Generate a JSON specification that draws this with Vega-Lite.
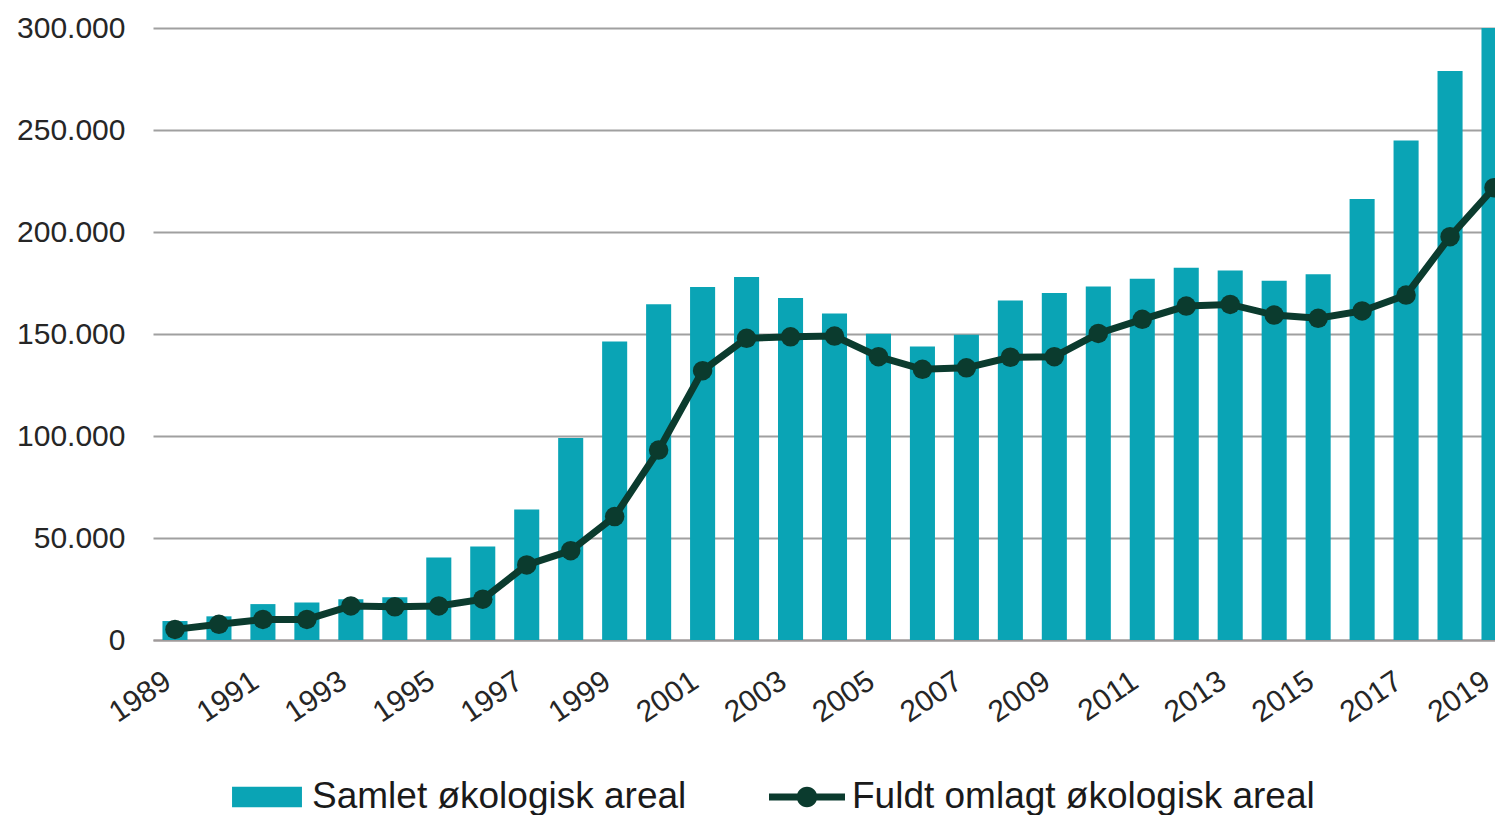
{
  "$schema": "https://vega.github.io/schema/vega-lite/v6.json",
  "width": 1363,
  "height": 612,
  "padding": {"left": 16, "top": 13, "right": 0, "bottom": 0},
  "background": "white",
  "config": {
    "view": {"stroke": null},
    "font": "Liberation Sans"
  },
  "data": {
    "values": [
      {"year": 1989, "series": "Samlet økologisk areal", "value": 9300},
      {"year": 1990, "series": "Samlet økologisk areal", "value": 11600},
      {"year": 1991, "series": "Samlet økologisk areal", "value": 17600},
      {"year": 1992, "series": "Samlet økologisk areal", "value": 18400},
      {"year": 1993, "series": "Samlet økologisk areal", "value": 20000},
      {"year": 1994, "series": "Samlet økologisk areal", "value": 21000},
      {"year": 1995, "series": "Samlet økologisk areal", "value": 40500},
      {"year": 1996, "series": "Samlet økologisk areal", "value": 45800},
      {"year": 1997, "series": "Samlet økologisk areal", "value": 64000},
      {"year": 1998, "series": "Samlet økologisk areal", "value": 99000},
      {"year": 1999, "series": "Samlet økologisk areal", "value": 146300},
      {"year": 2000, "series": "Samlet økologisk areal", "value": 164600},
      {"year": 2001, "series": "Samlet økologisk areal", "value": 173000},
      {"year": 2002, "series": "Samlet økologisk areal", "value": 177900},
      {"year": 2003, "series": "Samlet økologisk areal", "value": 167600},
      {"year": 2004, "series": "Samlet økologisk areal", "value": 160000},
      {"year": 2005, "series": "Samlet økologisk areal", "value": 150100},
      {"year": 2006, "series": "Samlet økologisk areal", "value": 143900},
      {"year": 2007, "series": "Samlet økologisk areal", "value": 149600},
      {"year": 2008, "series": "Samlet økologisk areal", "value": 166400},
      {"year": 2009, "series": "Samlet økologisk areal", "value": 170100},
      {"year": 2010, "series": "Samlet økologisk areal", "value": 173300},
      {"year": 2011, "series": "Samlet økologisk areal", "value": 177100},
      {"year": 2012, "series": "Samlet økologisk areal", "value": 182500},
      {"year": 2013, "series": "Samlet økologisk areal", "value": 181100},
      {"year": 2014, "series": "Samlet økologisk areal", "value": 176100},
      {"year": 2015, "series": "Samlet økologisk areal", "value": 179300},
      {"year": 2016, "series": "Samlet økologisk areal", "value": 216200},
      {"year": 2017, "series": "Samlet økologisk areal", "value": 244800},
      {"year": 2018, "series": "Samlet økologisk areal", "value": 278900},
      {"year": 2019, "series": "Samlet økologisk areal", "value": 300000},
      {"year": 1989, "series": "Fuldt omlagt økologisk areal", "value": 5200},
      {"year": 1990, "series": "Fuldt omlagt økologisk areal", "value": 7700},
      {"year": 1991, "series": "Fuldt omlagt økologisk areal", "value": 10100},
      {"year": 1992, "series": "Fuldt omlagt økologisk areal", "value": 10100},
      {"year": 1993, "series": "Fuldt omlagt økologisk areal", "value": 16700},
      {"year": 1994, "series": "Fuldt omlagt økologisk areal", "value": 16300},
      {"year": 1995, "series": "Fuldt omlagt økologisk areal", "value": 16700},
      {"year": 1996, "series": "Fuldt omlagt økologisk areal", "value": 20000},
      {"year": 1997, "series": "Fuldt omlagt økologisk areal", "value": 36800},
      {"year": 1998, "series": "Fuldt omlagt økologisk areal", "value": 43800},
      {"year": 1999, "series": "Fuldt omlagt økologisk areal", "value": 60500},
      {"year": 2000, "series": "Fuldt omlagt økologisk areal", "value": 93100},
      {"year": 2001, "series": "Fuldt omlagt økologisk areal", "value": 132000},
      {"year": 2002, "series": "Fuldt omlagt økologisk areal", "value": 147900},
      {"year": 2003, "series": "Fuldt omlagt økologisk areal", "value": 148600},
      {"year": 2004, "series": "Fuldt omlagt økologisk areal", "value": 149000},
      {"year": 2005, "series": "Fuldt omlagt økologisk areal", "value": 138900},
      {"year": 2006, "series": "Fuldt omlagt økologisk areal", "value": 132700},
      {"year": 2007, "series": "Fuldt omlagt økologisk areal", "value": 133400},
      {"year": 2008, "series": "Fuldt omlagt økologisk areal", "value": 138600},
      {"year": 2009, "series": "Fuldt omlagt økologisk areal", "value": 138900},
      {"year": 2010, "series": "Fuldt omlagt økologisk areal", "value": 150300},
      {"year": 2011, "series": "Fuldt omlagt økologisk areal", "value": 157200},
      {"year": 2012, "series": "Fuldt omlagt økologisk areal", "value": 163700},
      {"year": 2013, "series": "Fuldt omlagt økologisk areal", "value": 164500},
      {"year": 2014, "series": "Fuldt omlagt økologisk areal", "value": 159300},
      {"year": 2015, "series": "Fuldt omlagt økologisk areal", "value": 157700},
      {"year": 2016, "series": "Fuldt omlagt økologisk areal", "value": 161300},
      {"year": 2017, "series": "Fuldt omlagt økologisk areal", "value": 169100},
      {"year": 2018, "series": "Fuldt omlagt økologisk areal", "value": 197700},
      {"year": 2019, "series": "Fuldt omlagt økologisk areal", "value": 221700}
    ]
  },
  "encoding": {
    "x": {
      "field": "year",
      "type": "ordinal",
      "scale": {"paddingInner": 0.43, "paddingOuter": 0.215},
      "axis": {
        "title": null,
        "values": [1989, 1991, 1993, 1995, 1997, 1999, 2001, 2003, 2005, 2007, 2009, 2011, 2013, 2015, 2017, 2019],
        "labelAngle": -34,
        "labelAlign": "right",
        "labelBaseline": "middle",
        "labelPadding": 38,
        "labelOffset": -7,
        "labelFontSize": 30,
        "labelColor": "#262626",
        "labelOverlap": false,
        "ticks": false,
        "grid": false,
        "domainColor": "#a09a9a",
        "domainWidth": 2
      }
    },
    "y": {
      "field": "value",
      "type": "quantitative",
      "scale": {"domain": [0, 300000], "nice": false},
      "axis": {
        "title": null,
        "values": [0, 50000, 100000, 150000, 200000, 250000, 300000],
        "labelExpr": "replace(format(datum.value, ','), ',', '.')",
        "labelFontSize": 30,
        "labelColor": "#262626",
        "labelPadding": 28,
        "ticks": false,
        "domain": false,
        "grid": true,
        "gridColor": "#a0a0a0",
        "gridWidth": 2
      }
    },
    "color": {
      "field": "series",
      "type": "nominal",
      "scale": {
        "domain": ["Samlet økologisk areal", "Fuldt omlagt økologisk areal"],
        "range": ["#0aa4b5", "#0b3b2e"]
      },
      "legend": {
        "title": null,
        "orient": "none",
        "legendX": 76,
        "legendY": 731,
        "direction": "horizontal",
        "padding": 0,
        "labelFontSize": 37,
        "labelColor": "#1a1a1a",
        "labelLimit": 0,
        "labelOffset": 7,
        "columnPadding": 82,
        "symbolSize": 5776,
        "encode": {
          "symbols": {
            "update": {
              "shape": {"signal": "datum.value === 'Samlet økologisk areal' ? 'M-0.92,-0.27L0.92,-0.27L0.92,0.27L-0.92,0.27Z' : 'M-1,-0.09L1,-0.09L1,0.09L-1,0.09Z M0.27,0A0.27,0.27,0,1,1,-0.27,0A0.27,0.27,0,1,1,0.27,0Z'"},
              "fill": {"scale": "color", "field": "value"},
              "fillOpacity": {"value": 1},
              "opacity": {"value": 1},
              "stroke": {"value": "transparent"},
              "strokeWidth": {"value": 0},
              "size": {"value": 5776}
            }
          }
        }
      }
    }
  },
  "layer": [
    {
      "transform": [{"filter": "datum.series === 'Samlet økologisk areal'"}],
      "mark": {"type": "bar"}
    },
    {
      "transform": [{"filter": "datum.series === 'Fuldt omlagt økologisk areal'"}],
      "mark": {"type": "line", "strokeWidth": 7}
    },
    {
      "transform": [{"filter": "datum.series === 'Fuldt omlagt økologisk areal'"}],
      "mark": {"type": "point", "filled": true, "size": 380, "opacity": 1}
    }
  ]
}
